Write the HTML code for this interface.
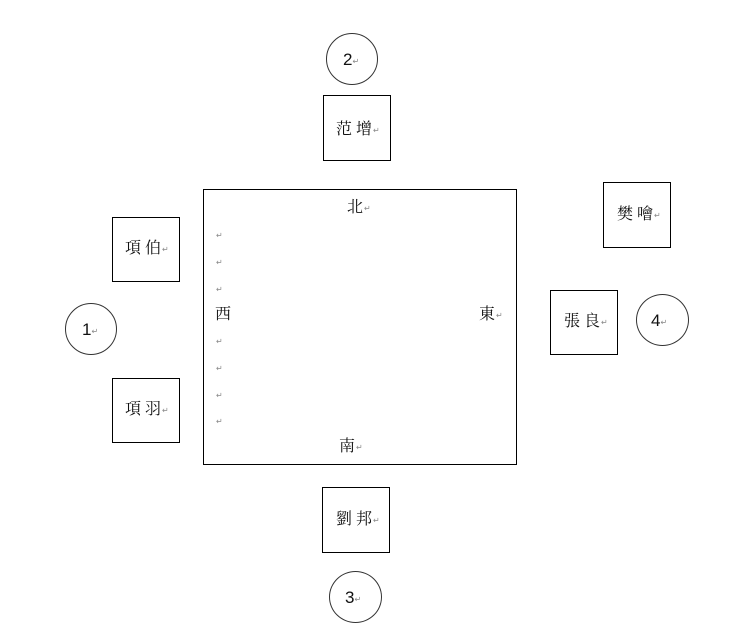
<!DOCTYPE html>
<html><head><meta charset="utf-8">
<style>
body{margin:0;width:738px;height:633px;background:#fff;position:relative;overflow:hidden}
.b{position:absolute;border:1px solid #000;box-sizing:border-box}
.c{position:absolute;border:1px solid #333;border-radius:50%;box-sizing:border-box}
.t{position:absolute;font-family:"Liberation Serif","Noto Serif CJK SC","Noto Sans CJK TC",serif;font-size:16px;line-height:16px;letter-spacing:4px;color:#111;white-space:nowrap}
.n{position:absolute;font-family:"Liberation Sans",sans-serif;font-size:17px;line-height:16px;color:#111;white-space:nowrap}
.r{font-family:"DejaVu Sans",sans-serif;font-size:8px;color:#888;letter-spacing:0;vertical-align:1px;margin-left:-3px}
.n .r{margin-left:0}
.a{position:absolute;font-family:"DejaVu Sans",sans-serif;font-size:8px;color:#888;line-height:8px}
</style></head><body>
<div class="b" style="left:203px;top:189px;width:314px;height:276px"></div>

<div class="b" style="left:323px;top:95px;width:68px;height:66px"></div>
<div class="b" style="left:112px;top:217px;width:68px;height:65px"></div>
<div class="b" style="left:112px;top:378px;width:68px;height:65px"></div>
<div class="b" style="left:603px;top:182px;width:68px;height:66px"></div>
<div class="b" style="left:550px;top:290px;width:68px;height:65px"></div>
<div class="b" style="left:322px;top:487px;width:68px;height:66px"></div>

<div class="c" style="left:326px;top:33px;width:52px;height:52px"></div>
<div class="c" style="left:65px;top:303px;width:52px;height:52px"></div>
<div class="c" style="left:636px;top:294px;width:53px;height:52px"></div>
<div class="c" style="left:329px;top:571px;width:53px;height:52px"></div>

<div class="t" style="left:336px;top:122px">范增<span class="r">↵</span></div>
<div class="t" style="left:125px;top:241px">項伯<span class="r">↵</span></div>
<div class="t" style="left:125px;top:402px">項羽<span class="r">↵</span></div>
<div class="t" style="left:617px;top:207px">樊噲<span class="r">↵</span></div>
<div class="t" style="left:564px;top:314px">張良<span class="r">↵</span></div>
<div class="t" style="left:336px;top:512px">劉邦<span class="r">↵</span></div>

<div class="t" style="left:347px;top:200px">北<span class="r">↵</span></div>
<div class="t" style="left:339px;top:439px">南<span class="r">↵</span></div>
<div class="t" style="left:215px;top:307px">西</div>
<div class="t" style="left:479px;top:307px">東<span class="r">↵</span></div>

<div class="a" style="left:216px;top:232px">↵</div>
<div class="a" style="left:216px;top:259px">↵</div>
<div class="a" style="left:216px;top:286px">↵</div>
<div class="a" style="left:216px;top:338px">↵</div>
<div class="a" style="left:216px;top:365px">↵</div>
<div class="a" style="left:216px;top:392px">↵</div>
<div class="a" style="left:216px;top:418px">↵</div>

<div class="n" style="left:343px;top:52px">2<span class="r">↵</span></div>
<div class="n" style="left:82px;top:322px">1<span class="r">↵</span></div>
<div class="n" style="left:651px;top:313px">4<span class="r">↵</span></div>
<div class="n" style="left:345px;top:590px">3<span class="r">↵</span></div>
</body></html>
